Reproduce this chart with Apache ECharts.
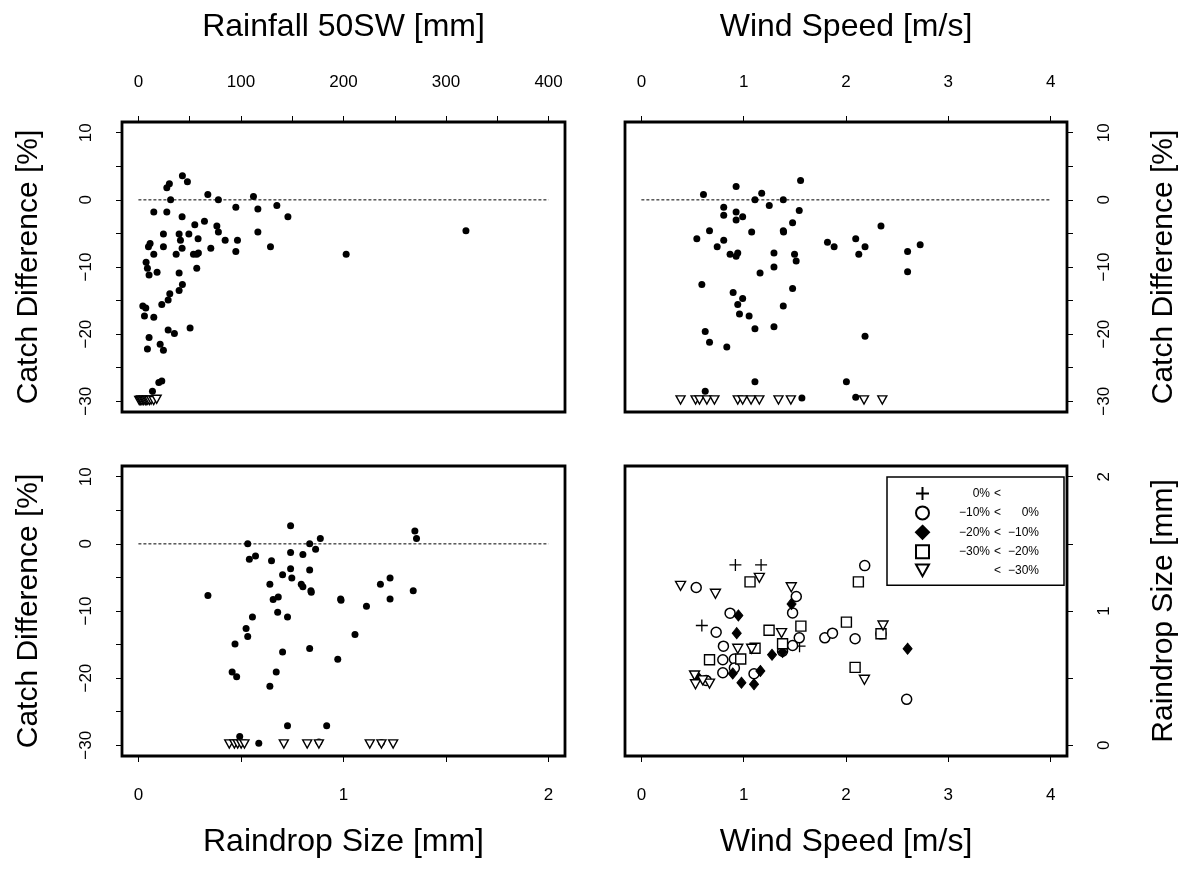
<!DOCTYPE html>
<html>
<head>
<meta charset="utf-8">
<script src="https://cdn.jsdelivr.net/npm/echarts@6/dist/echarts.min.js"></script>
<style>
  html, body { margin: 0; background: #fff; }
  #chart { width: 1188px; height: 873px; }
</style>
</head>
<body>
<div id="chart"></div>
<script>
// ---- data ----
// panel 1: rainfall [mm] vs catch difference [%]
const p1Dots = [
  [42.9,3.6],[47.8,2.7],[30.2,2.4],[27.7,1.8],[31.4,0],[67.7,0.8],[78,0],[112.2,0.5],
  [15,-1.8],[27.7,-1.8],[42.6,-2.5],[95,-1.1],[116.5,-1.35],[135,-0.85],[145.8,-2.5],
  [319.4,-4.6],[202.6,-8.1],[55,-3.7],[64.4,-3.2],[76.5,-3.9],[78,-4.8],[24.4,-5.1],
  [39.7,-5.1],[49.2,-5.1],[41,-6],[58.2,-5.8],[84.6,-6],[96.6,-6],[116.5,-4.8],
  [11.4,-6.5],[9.8,-7],[24.4,-7],[42.6,-7.2],[70.6,-7.2],[95,-7.7],[128.8,-7],
  [15,-8.1],[36.8,-8.1],[53.7,-8.1],[56.9,-8.1],[58.5,-7.9],[7.5,-9.3],[8.8,-10.2],
  [10.4,-11.2],[18.2,-10.8],[39.7,-10.9],[56.9,-10.2],[42.9,-12.6],[39.7,-13.5],
  [30.6,-14],[29,-14.9],[22.8,-15.6],[4.3,-15.8],[7.2,-16.1],[5.9,-17.3],[15,-17.5],
  [50.4,-19.1],[29,-19.4],[35.1,-19.9],[10.4,-20.5],[8.8,-22.2],[21.2,-21.5],[24.4,-22.4],
  [19.9,-27.2],[22.8,-27],[13.7,-28.5],[3,-29.6],[6.5,-29.6],[9.5,-29.6],[11.5,-29.7]
];
const p1Tri = [
  [0.8,-29.9],[1.9,-29.9],[2.6,-29.8],[3.5,-29.9],[4.8,-29.9],[5.5,-29.8],[6.9,-29.9],
  [8.2,-29.9],[9.1,-29.8],[10.7,-29.9],[12.4,-29.8],[14.9,-29.9],[17.8,-29.7]
];
const p1Ref = [[0,0],[400,0]];

// panel 2: wind speed [m/s] vs catch difference [%]
const p2Dots = [
  [1.556,2.9],[0.926,2.0],[0.607,0.8],[1.176,1.0],[1.11,0],[1.387,0],[0.805,-1.1],[0.926,-1.8],
  [1.25,-0.85],[1.543,-1.6],[0.805,-2.3],[0.99,-2.5],[0.926,-3.0],[1.478,-3.4],[2.342,-3.9],
  [0.666,-4.6],[1.078,-4.8],[1.387,-4.6],[1.39,-4.8],[0.542,-5.8],[0.805,-6],[0.741,-7],
  [1.819,-6.3],[1.884,-7],[2.095,-5.8],[2.186,-7],[2.125,-8.1],[2.602,-7.7],[2.725,-6.7],
  [2.602,-10.7],[0.867,-8.1],[0.926,-8.4],[0.942,-7.9],[1.296,-7.9],[1.497,-8.1],[1.513,-9.1],
  [1.296,-10],[1.16,-10.9],[0.591,-12.6],[1.478,-13.2],[0.897,-13.8],[0.99,-14.7],[0.942,-15.6],
  [1.387,-15.8],[0.959,-17],[1.053,-17.3],[1.11,-19.2],[1.296,-18.9],[0.624,-19.6],[2.186,-20.3],
  [0.666,-21.2],[0.835,-21.9],[1.11,-27.1],[2.004,-27.1],[0.624,-28.5],[1.569,-29.5],[2.095,-29.4]
];
const p2Tri = [
  [0.383,-29.8],[0.53,-29.8],[0.568,-29.8],[0.64,-29.8],[0.714,-29.8],[0.942,-29.8],[0.99,-29.8],
  [1.072,-29.8],[1.153,-29.8],[1.34,-29.8],[1.461,-29.8],[2.176,-29.8],[2.355,-29.8]
];
const p2Ref = [[0,0],[4,0]];

// panel 3: raindrop size [mm] vs catch difference [%]
const p3Dots = [
  [0.742,2.7],[1.348,1.9],[1.356,0.8],[0.533,0],[0.835,0],[0.887,0.8],[0.864,-0.8],[0.742,-1.3],
  [0.802,-1.6],[0.541,-2.3],[0.571,-1.8],[0.649,-2.5],[0.742,-3.7],[0.835,-3.9],[0.703,-4.6],
  [0.748,-5.1],[1.227,-5.1],[0.641,-6],[0.794,-6],[0.802,-6.4],[1.18,-6],[0.841,-7],[0.843,-7.2],
  [1.34,-7],[0.339,-7.7],[0.682,-7.9],[0.657,-8.3],[0.986,-8.2],[0.988,-8.4],[1.227,-8.2],
  [1.112,-9.3],[0.679,-10.2],[0.556,-10.9],[0.727,-10.9],[0.525,-12.6],[0.533,-13.8],[1.056,-13.5],
  [0.471,-14.9],[0.703,-16.1],[0.835,-15.6],[0.972,-17.2],[0.457,-19.1],[0.479,-19.8],[0.672,-19.1],
  [0.641,-21.2],[0.727,-27.1],[0.918,-27.1],[0.494,-28.7],[0.587,-29.7],[0.88,-29.5],[1.185,-29.6]
];
const p3Tri = [
  [0.443,-29.8],[0.468,-29.8],[0.484,-29.8],[0.501,-29.8],[0.517,-29.8],[0.709,-29.8],
  [0.823,-29.8],[0.88,-29.8],[1.128,-29.8],[1.185,-29.8],[1.242,-29.8]
];
const p3Ref = [[0,0],[2,0]];

// panel 4: wind speed [m/s] vs raindrop size [mm], by catch difference class
const p4Plus = [[0.919,1.343],[1.17,1.343],[0.591,0.892],[1.546,0.738]];
const p4Circle = [
  [0.536,1.175],[2.183,1.338],[1.514,1.108],[1.478,0.986],[0.867,0.984],[0.731,0.842],[1.543,0.8],
  [1.793,0.8],[1.868,0.835],[2.089,0.793],[2.342,0.83],[0.802,0.738],[1.478,0.743],[0.796,0.637],
  [0.909,0.642],[0.796,0.54],[0.909,0.575],[1.101,0.533],[2.593,0.342],[1.38,0.7],[0.633,0.483]
];
const p4Filled = [
  [0.948,0.967],[0.932,0.835],[1.468,1.053],[1.277,0.674],[1.38,0.694],[0.893,0.535],
  [0.978,0.466],[1.101,0.454],[1.163,0.553],[2.602,0.719],[0.552,0.508]
];
const p4Square = [
  [1.062,1.217],[2.121,1.217],[1.559,0.887],[2.004,0.917],[1.248,0.857],[0.666,0.637],
  [0.971,0.642],[1.111,0.723],[2.089,0.58],[2.342,0.83],[1.38,0.756]
];
const p4Tri = [
  [0.383,1.187],[0.724,1.128],[1.153,1.247],[1.465,1.177],[1.37,0.835],[0.942,0.719],[1.078,0.719],
  [2.362,0.892],[2.18,0.488],[0.52,0.52],[0.529,0.454],[0.666,0.459],[0.6,0.483]
];

const classNames = ['c0', 'c10', 'c20', 'c30', 'cLow'];
const classLow = ['0%', '\u221210%', '\u221220%', '\u221230%', ''];
const classHigh = ['', '0%', '\u221210%', '\u221220%', '\u221230%'];

const catchTicks = [-30, -25, -20, -15, -10, -5, 0, 5, 10];
const catchLabels = [-30, -20, -10, 0, 10];
const rainTicks = [0, 50, 100, 150, 200, 250, 300, 350, 400];
const rainLabels = [0, 100, 200, 300, 400];
const windTicks = [0, 1, 2, 3, 4];
const dropTicks = [0, 0.5, 1, 1.5, 2];
const dropLabels = [0, 1, 2];

// ---- chart ----
const FONT = 'Liberation Sans, Arial, Helvetica, sans-serif';
const triPath = 'path://M0,0L10,0L5,9Z';
const plusPath = 'path://M0,5L10,5M5,0L5,10';

function fmt(v) { return String(v).replace('-', '\u2212'); }

function axis(gridIndex, position, name, min, max, ticks, labels, nameGap, labelMargin, isY) {
  return {
    type: 'value', gridIndex, position, name, min, max,
    nameLocation: 'middle', nameGap,
    nameRotate: isY ? 90 : 0,
    nameTextStyle: { fontFamily: FONT, fontSize: isY ? 30 : 32, color: '#000' },
    splitLine: { show: false },
    axisLine: { show: false, onZero: false },
    axisTick: { show: true, inside: false, length: 6, customValues: ticks,
                lineStyle: { color: '#000', width: 1 } },
    axisLabel: { show: true, customValues: labels, margin: labelMargin,
                 rotate: isY ? 90 : 0, fontFamily: FONT, fontSize: 17, color: '#000',
                 formatter: fmt }
  };
}

function dots(xi, data) {
  return { type: 'scatter', xAxisIndex: xi, yAxisIndex: xi, data, symbol: 'circle',
           symbolSize: 7, itemStyle: { color: '#000', opacity: 1 }, silent: true };
}
function tris(xi, data) {
  return { type: 'scatter', xAxisIndex: xi, yAxisIndex: xi, data, symbol: triPath,
           symbolKeepAspect: true, symbolSize: 9,
           itemStyle: { color: '#fff', borderColor: '#000', borderWidth: 1.4, opacity: 1 }, silent: true };
}
function refLine(xi, data) {
  return { type: 'line', xAxisIndex: xi, yAxisIndex: xi, data, symbol: 'none', silent: true,
           lineStyle: { color: '#000', width: 1, type: [3, 2] } };
}
function cls(i, data, symbol, size, style) {
  return { name: classNames[i], type: 'scatter', xAxisIndex: 3, yAxisIndex: 3, data,
           symbol, symbolSize: size, symbolKeepAspect: true,
           itemStyle: Object.assign({ borderColor: '#000', opacity: 1 }, style) };
}

const chart = echarts.init(document.getElementById('chart'));
chart.setOption({
  animation: false,
  backgroundColor: '#fff',
  grid: [
    { left: 122, top: 122, width: 443, height: 290 },
    { left: 625, top: 122, width: 442, height: 290 },
    { left: 122, top: 466, width: 443, height: 290 },
    { left: 625, top: 466, width: 442, height: 290 }
  ].map(g => Object.assign(g, { show: true, borderColor: '#000', borderWidth: 2.8 })),
  xAxis: [
    axis(0, 'top', 'Rainfall 50SW [mm]', -16, 416, rainTicks, rainLabels, 79, 31, false),
    axis(1, 'top', 'Wind Speed [m/s]', -0.16, 4.16, windTicks, windTicks, 79, 31, false),
    axis(2, 'bottom', 'Raindrop Size [mm]', -0.08, 2.08, dropTicks, dropLabels, 70, 31, false),
    axis(3, 'bottom', 'Wind Speed [m/s]', -0.16, 4.16, windTicks, windTicks, 70, 31, false)
  ],
  yAxis: [
    axis(0, 'left', 'Catch Difference [%]', -31.6, 11.6, catchTicks, catchLabels, 78, 27, true),
    axis(1, 'right', 'Catch Difference [%]', -31.6, 11.6, catchTicks, catchLabels, 82, 29, true),
    axis(2, 'left', 'Catch Difference [%]', -31.6, 11.6, catchTicks, catchLabels, 78, 27, true),
    axis(3, 'right', 'Raindrop Size [mm]', -0.08, 2.08, dropTicks, dropLabels, 82, 29, true)
  ],
  legend: {
    data: classNames,
    orient: 'vertical',
    left: 887, top: 477,
    padding: [9, 25, 8, 28],
    itemWidth: 13, itemHeight: 13, itemGap: 4.4,
    borderColor: '#000', borderWidth: 1.5,
    selectedMode: false,
    formatter: name => {
      const i = classNames.indexOf(name);
      return '{a|' + classLow[i] + '}{b|<}{c|' + classHigh[i] + '}';
    },
    textStyle: {
      fontFamily: FONT, fontSize: 12, color: '#000',
      rich: {
        a: { width: 56, align: 'right', fontFamily: FONT, fontSize: 12, lineHeight: 13 },
        b: { width: 11, align: 'right', fontFamily: FONT, fontSize: 12, lineHeight: 13 },
        c: { width: 38, align: 'right', fontFamily: FONT, fontSize: 12, lineHeight: 13 }
      }
    }
  },
  series: [
    refLine(0, p1Ref), dots(0, p1Dots), tris(0, p1Tri),
    refLine(1, p2Ref), dots(1, p2Dots), tris(1, p2Tri),
    refLine(2, p3Ref), dots(2, p3Dots), tris(2, p3Tri),
    cls(0, p4Plus, plusPath, 12, { color: 'transparent', borderWidth: 1.3 }),
    cls(1, p4Circle, 'circle', 10, { color: '#fff', borderWidth: 1.5 }),
    cls(2, p4Filled, 'diamond', [9, 11], { color: '#000', borderWidth: 1 }),
    cls(3, p4Square, 'rect', 10, { color: '#fff', borderWidth: 1.4 }),
    cls(4, p4Tri, triPath, 10, { color: '#fff', borderWidth: 1.4 })
  ]
});
</script>
</body>
</html>
